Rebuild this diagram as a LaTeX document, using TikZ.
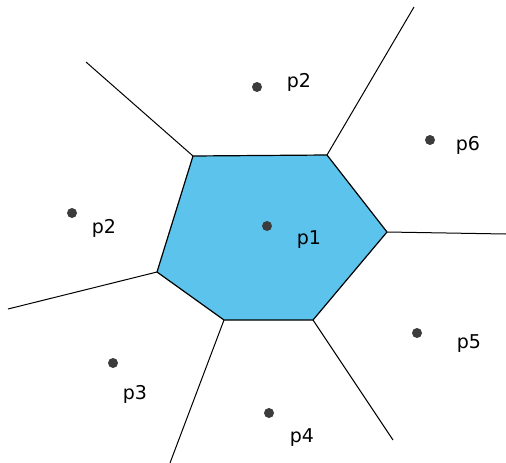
\documentclass[tikz,border=0pt]{standalone}
\usepackage{fontspec}
\setmainfont{DejaVu Sans}
\usetikzlibrary{positioning}
\definecolor{cellblue}{RGB}{92,196,236}
\definecolor{sitegray}{RGB}{60,60,60}
\begin{document}
\begin{tikzpicture}[x=1pt,y=-1pt,
    site/.style={circle,fill=sitegray,inner sep=0pt,minimum size=10pt},
    lbl/.style={font=\fontsize{19}{19}\selectfont,inner sep=0pt},
    edge/.style={line width=1pt,black}]
        \useasboundingbox (0,0) rectangle (506,463);
        % cell of p1
        \coordinate (v1) at (193,156);
        \coordinate (v2) at (327,155);
        \coordinate (v3) at (387,232);
        \coordinate (v4) at (313,320);
        \coordinate (v5) at (224,320);
        \coordinate (v6) at (157,272);
        \fill[cellblue] (v1) -- (v2) -- (v3) -- (v4) -- (v5) -- (v6) -- cycle;
        \draw[edge,line width=1.2pt,line join=round] (v1) -- (v2) -- (v3) -- (v4) -- (v5) -- (v6) -- cycle;
        % rays
        \coordinate (e1) at (86,62);
        \coordinate (e2) at (414,7);
        \coordinate (e3) at (506,234);
        \coordinate (e4) at (393,440);
        \coordinate (e5) at (170,463);
        \coordinate (e6) at (8,309);
        \draw[edge] (v1) -- (e1);
        \draw[edge] (v2) -- (e2);
        \draw[edge] (v3) -- (e3);
        \draw[edge] (v4) -- (e4);
        \draw[edge] (v5) -- (e5);
        \draw[edge] (v6) -- (e6);
        % sites
        \node[site] (p1) at (267,226) {};
        \node[site] (p2a) at (257,87) {};
        \node[site] (p2b) at (72,213) {};
        \node[site] (p3) at (113,363) {};
        \node[site] (p4) at (269,413) {};
        \node[site] (p5) at (417,333) {};
        \node[site] (p6) at (430,140) {};
        \node[lbl] (l1) at (309,240) {p1};
        \node[lbl] (l2a) at (299,82) {p2};
        \node[lbl] (l2b) at (104,228) {p2};
        \node[lbl] (l3) at (135,394) {p3};
        \node[lbl] (l4) at (302,438) {p4};
        \node[lbl] (l5) at (469,344) {p5};
        \node[lbl] (l6) at (468,145) {p6};
    \end{tikzpicture}
\end{document}
